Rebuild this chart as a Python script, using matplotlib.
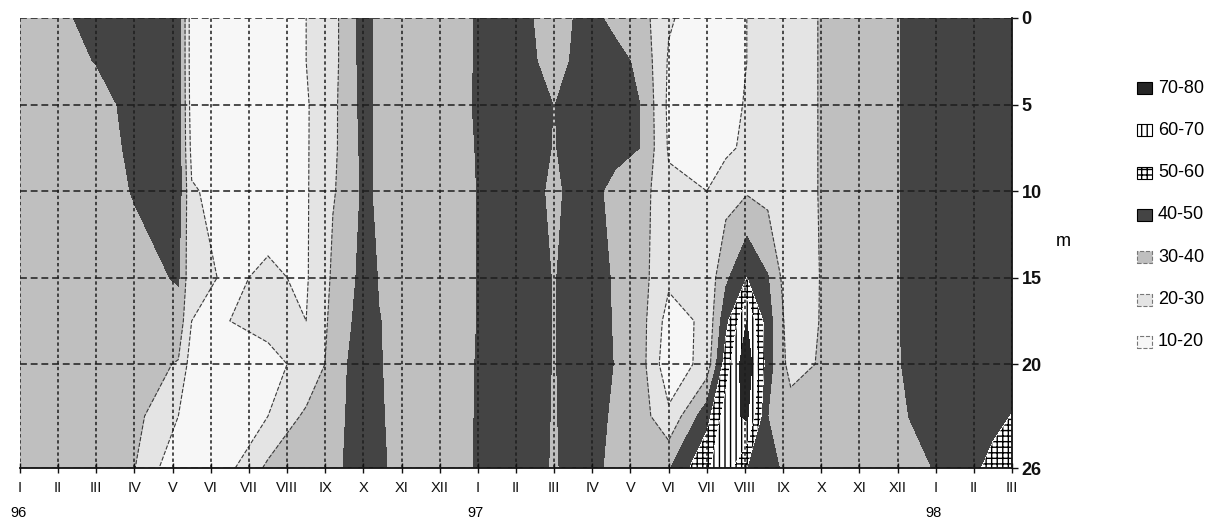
import numpy as np
import matplotlib
matplotlib.use("Agg")
import matplotlib.pyplot as plt
from matplotlib.patches import Rectangle

# ---------------- data ----------------
# sampling times in months counted from January 1996 (0 = I 96, 26 = III 98)
sample_month = [0.0, 1.0, 2.0, 3.0, 4.15, 4.5, 5.5, 6.5, 7.5, 8.2, 8.6, 9.03,
                9.4, 10.5, 11.5, 12.1, 13.0, 14.0, 14.9, 15.6, 16.3, 17.0,
                18.0, 18.5, 19.05, 19.6, 20.2, 21.0, 22.0, 22.9, 23.3, 24.5,
                25.5, 26.0]
depth_m = [0, 2.5, 5, 7.5, 10, 15, 17.5, 20, 23, 26]

# one vertical profile per sampling time (values at depth_m)
profiles = [
    [35, 35, 35, 35, 35, 35, 35, 35, 35, 35],
    [36, 35.5, 35, 35, 35, 35, 35, 35, 35, 35],
    [46, 40.5, 35, 35, 35, 35, 35, 34.5, 34, 34],
    [47, 46, 44.3, 42.3, 40.7, 36, 35, 34, 33, 30.3],
    [46, 46, 46, 45.5, 45, 41, 36, 29.3, 20, 12],
    [14, 14, 15, 17, 21, 22, 20, 15, 14, 13],
    [12, 12, 13, 14, 16, 19, 20, 18, 15, 18],
    [13, 13, 14, 15, 17, 21, 21, 19, 20, 32],
    [20, 20, 19, 19, 19, 19, 20, 21, 32, 34],
    [27, 27, 28, 28.5, 29.5, 31.3, 32.5, 33.8, 35, 36],
    [35, 35, 34.5, 33.5, 32.3, 35.5, 38, 40.3, 41, 42],
    [44.3, 44.3, 44, 43.5, 43, 45, 46, 47, 47.5, 48],
    [36.3, 36.3, 36.5, 37, 37.4, 39.5, 40.3, 40.5, 40.8, 41],
    [34, 33, 35, 35, 35, 35, 35, 35, 35, 36],
    [33, 33, 33, 33, 33, 33, 33, 33, 33, 33],
    [44, 44, 45, 43, 42, 42, 42, 43, 43.5, 44],
    [44, 45, 46, 46, 46, 46, 46, 46, 46, 46],
    [35, 36, 39.8, 39.5, 38, 39.5, 39.5, 39.5, 39.3, 39],
    [44, 45, 46, 46, 46, 46, 46, 46, 46, 46],
    [36.6, 44, 45, 45, 35, 38.6, 39, 39.5, 37.6, 35],
    [34, 37, 39.6, 39.5, 34, 33, 33, 33, 34, 35],
    [21, 19, 18, 19, 22, 22, 16, 13, 22, 39],
    [15, 14, 14, 15, 20, 23, 22, 24, 46, 59],
    [15, 15, 16, 18, 26, 38, 47, 55, 65, 64],
    [20, 20, 21, 22, 29, 50, 70, 78, 72, 50],
    [24, 24, 24, 25, 27, 40.5, 44, 44, 40, 44],
    [26, 26, 26, 26, 26, 22, 24, 26, 35, 36],
    [30.5, 30.5, 30.5, 30.5, 30.5, 30.5, 30.5, 31, 35, 36],
    [35, 35, 35, 35, 35, 35, 35, 35, 35, 35],
    [36, 36, 36, 36, 36, 36, 36, 36, 35, 34],
    [45.4, 45.4, 45.4, 45.4, 45.4, 45.4, 45, 44, 40.1, 37],
    [46, 46, 46, 46, 46, 46, 46, 46, 45, 43],
    [46, 46, 46, 46, 46, 46, 46, 46, 47, 53],
    [46, 46, 46, 46, 46, 46, 46, 47, 50.3, 58],
]

band_levels = [10, 20, 30, 40, 50, 60, 70, 80]
band_labels = ["10-20", "20-30", "30-40", "40-50", "50-60", "60-70", "70-80"]
band_colors = ["#f7f7f7", "#e4e4e4", "#bfbfbf", "#444444", "#ffffff", "#ffffff", "#262626"]
band_hatches = [None, None, None, None, "+++", "|||", None]

month_labels = ["I", "II", "III", "IV", "V", "VI", "VII", "VIII", "IX", "X", "XI", "XII"] * 2 + ["I", "II", "III"]
year_labels = ["96", "97", "98"]
year_pos = [0, 12, 24]
depth_ticks = [0, 5, 10, 15, 20, 26]

# ---------------- figure ----------------
plt.rcParams["font.family"] = ["Liberation Sans", "DejaVu Sans"]
plt.rcParams["hatch.color"] = "black"
plt.rcParams["hatch.linewidth"] = 1.0

W, H = 1226, 523
fig = plt.figure(figsize=(W / 100, H / 100), dpi=100)
ax = fig.add_axes([20 / W, 1 - 468 / H, (1012 - 20) / W, 450 / H])

T, D = np.meshgrid(sample_month, depth_m)
Z = np.array(profiles, dtype=float).T

ax.contourf(T, D, Z, levels=band_levels, colors=band_colors, hatches=band_hatches, zorder=1)
ax.contour(T, D, Z, levels=[20, 30], colors="#3c3c3c", linewidths=0.8,
           linestyles="dashed", zorder=2)

ax.set_xlim(0, 26)
ax.set_ylim(26, 0)

ax.set_xticks(range(len(month_labels)))
ax.set_xticklabels(month_labels, fontsize=10.5)
ax.yaxis.tick_right()
ax.set_yticks(depth_ticks)
ax.set_yticklabels([str(t) for t in depth_ticks], fontsize=13, fontweight="bold")
ax.tick_params(axis="x", direction="inout", length=7, width=1, pad=6, colors="#111")
ax.tick_params(axis="y", direction="out", length=4, width=1, pad=3, colors="#111")

ax.set_axisbelow(False)
ax.grid(axis="x", color="#1e1e1e", linestyle=(0, (2.2, 1.8)), linewidth=1.1)
ax.grid(axis="y", color="#1e1e1e", linestyle=(0, (4.5, 2.5)), linewidth=1.1)

for s in ["top", "left"]:
    ax.spines[s].set_visible(False)
for s in ["bottom", "right"]:
    ax.spines[s].set_linewidth(1.3)
    ax.spines[s].set_color("#111")

for pos, lab in zip(year_pos, year_labels):
    ax.text(pos - 0.05, -0.1, lab, transform=ax.get_xaxis_transform(),
            ha="center", va="center", fontsize=10.5)

fig.text(1063 / W, 1 - 242 / H, "m", fontsize=13, ha="center", va="center")

# legend (top = highest band)
for i, k in enumerate(range(len(band_labels) - 1, -1, -1)):
    yc = 88 + i * 42.3
    light = k < 3
    rect = Rectangle((1137 / W, 1 - (yc + 6) / H), 15 / W, 12 / H,
                     transform=fig.transFigure, facecolor=band_colors[k],
                     hatch=band_hatches[k],
                     edgecolor="#777" if light else "black",
                     linestyle="--" if light else "-", linewidth=0.8)
    fig.add_artist(rect)
    fig.text(1158 / W, 1 - yc / H, band_labels[k], fontsize=13, va="center", ha="left")

fig.savefig("out.png", dpi=100)
